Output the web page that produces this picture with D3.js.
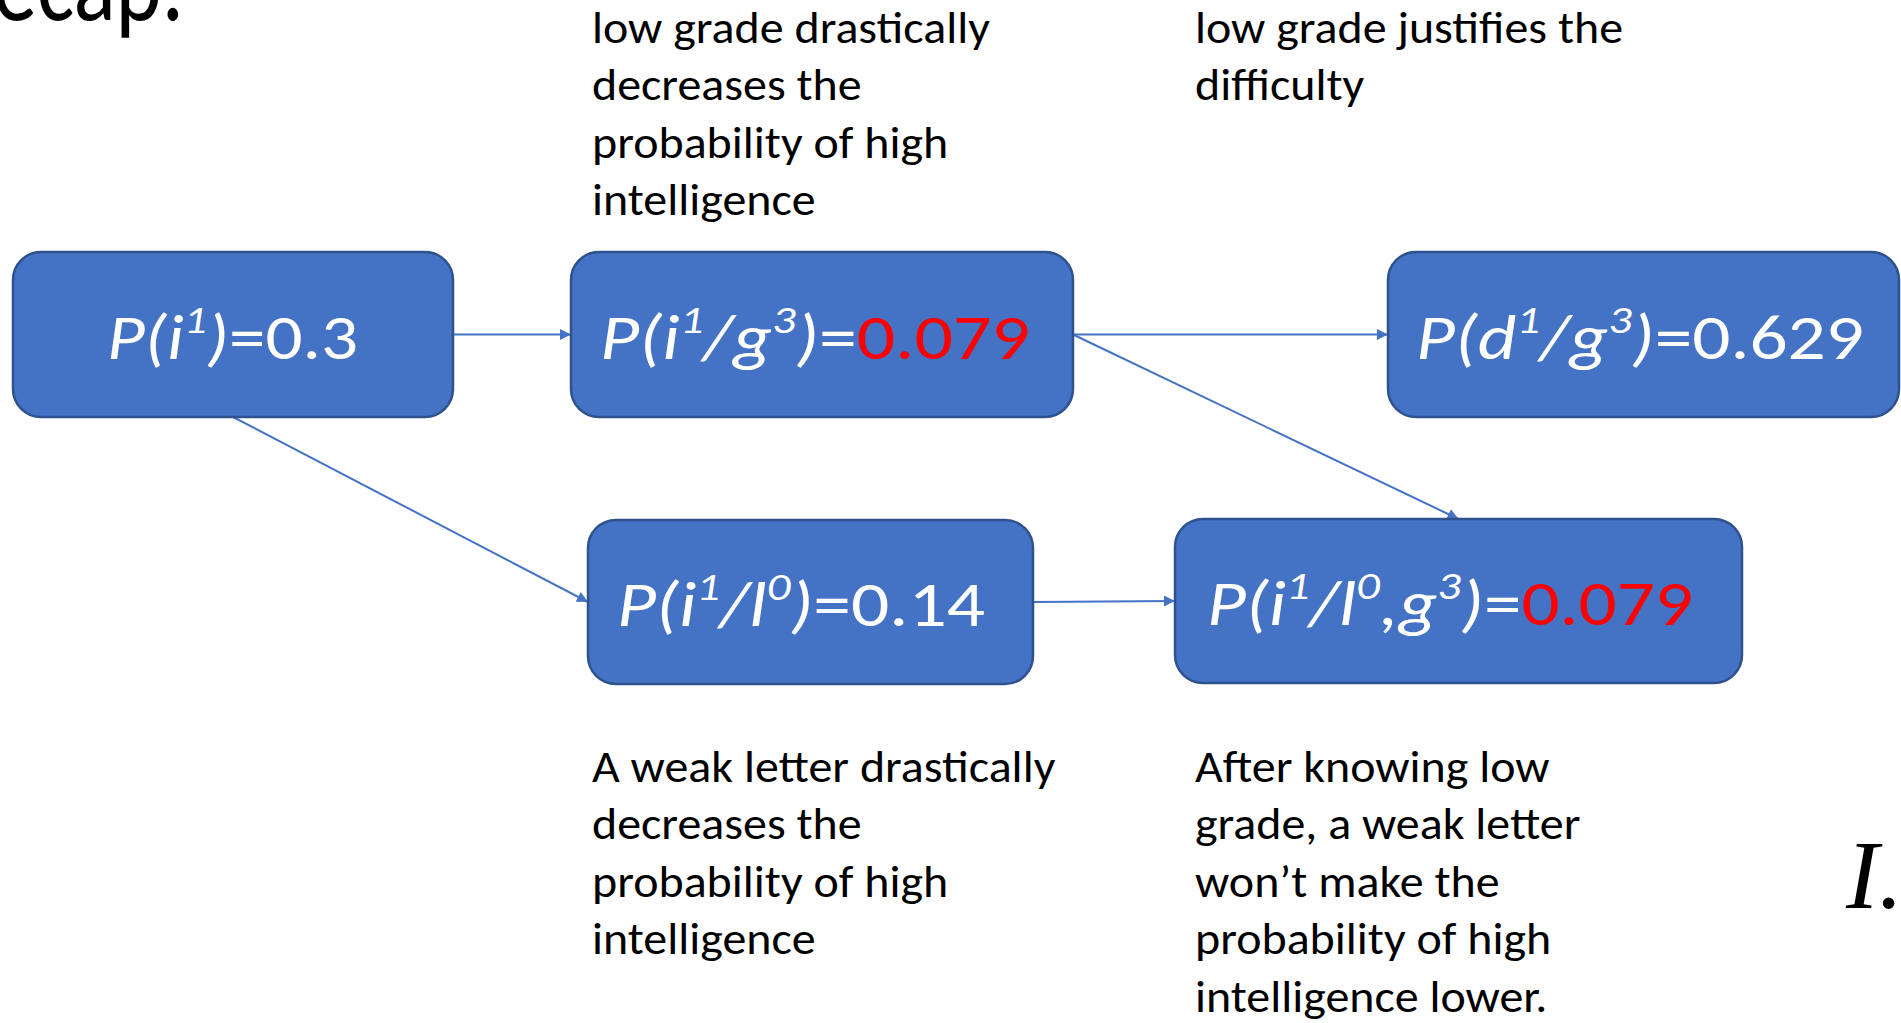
<!DOCTYPE html>
<html><head><meta charset="utf-8">
<script src="https://cdn.jsdelivr.net/npm/d3@7/dist/d3.min.js"></script>
<style>html,body{margin:0;padding:0;background:#fff;overflow:hidden}</style>
</head><body>
<svg id="c" width="1901" height="1023"></svg>
<script>
// ---- content ----
const nodeIds = ["i", "ig", "dg", "il", "ilg"];
const nodeLabels = ["P(i^1)=", "P(i^1/g^3)=", "P(d^1/g^3)=", "P(i^1/l^0)=", "P(i^1/l^0,g^3)="];
const nodeValues = ["0.3", "0.079", "0.629", "0.14", "0.079"];
const nodeHighlighted = [false, true, false, false, true];
const edgeSources = ["i", "ig", "ig", "i", "il"];
const edgeTargets = ["ig", "dg", "ilg", "il", "ilg"];
const edgeFromSide = ["r", "r", "r", "b", "r"];
const edgeToSide = ["l", "l", "t", "l", "l"];
const noteTopLeft = ["low grade drastically", "decreases the", "probability of high", "intelligence"];
const noteTopRight = ["low grade justifies the", "difficulty"];
const noteBottomLeft = ["A weak letter drastically", "decreases the", "probability of high", "intelligence"];
const noteBottomRight = ["After knowing low", "grade, a weak letter", "won’t make the", "probability of high", "intelligence lower."];
const titleText = "Recap.";
const cornerText = "I.";

// ---- layout ----
const boxLayout = {
  i:   {x: 13,   y: 252, w: 440, h: 165, tx: 107,  tw: 251},
  ig:  {x: 571,  y: 252, w: 502, h: 165, tx: 600,  tw: 430},
  dg:  {x: 1388, y: 252, w: 511, h: 165, tx: 1416, tw: 448},
  il:  {x: 588,  y: 520, w: 445, h: 164, tx: 617,  tw: 368},
  ilg: {x: 1175, y: 519, w: 567, h: 164, tx: 1207, tw: 486}
};
const noteLayout = [
  {lines: noteTopLeft, x: 592, y: 43},
  {lines: noteTopRight, x: 1195, y: 43},
  {lines: noteBottomLeft, x: 592, y: 782},
  {lines: noteBottomRight, x: 1195, y: 782}
];
const lineHeight = 57.4;
const noteFont = 45;
const labelFont = 64;
const BLUE = "#4472C4", EDGE = "#2F528F", RED = "#FF0000";
const FONT = "Calibri, Carlito, 'Open Sans', sans-serif";

const svg = d3.select("#c");
svg.append("defs").append("marker")
  .attr("id", "ah").attr("markerUnits", "userSpaceOnUse")
  .attr("viewBox", "0 0 10 10").attr("refX", 10).attr("refY", 5)
  .attr("markerWidth", 13).attr("markerHeight", 11).attr("orient", "auto")
  .append("path").attr("d", "M0,0 L10,5 L0,10 Z").attr("fill", BLUE);

const nodes = nodeIds.map((id, i) => ({id, label: nodeLabels[i], value: nodeValues[i], hi: nodeHighlighted[i], ...boxLayout[id]}));
const byId = new Map(nodes.map(n => [n.id, n]));
function anchor(n, side) {
  if (side === "r") return [n.x + n.w, n.y + n.h / 2];
  if (side === "l") return [n.x, n.y + n.h / 2];
  if (side === "t") return [n.x + n.w / 2, n.y];
  return [n.x + n.w / 2, n.y + n.h];
}
const edges = edgeSources.map((s, i) => {
  const a = anchor(byId.get(s), edgeFromSide[i]);
  const b = anchor(byId.get(edgeTargets[i]), edgeToSide[i]);
  return {a, b};
});

// edges
svg.append("g").selectAll("line").data(edges).join("line")
  .attr("x1", d => d.a[0]).attr("y1", d => d.a[1])
  .attr("x2", d => d.b[0]).attr("y2", d => d.b[1])
  .attr("stroke", BLUE).attr("stroke-width", 2).attr("marker-end", "url(#ah)");

// boxes
const ng = svg.append("g").selectAll("g").data(nodes).join("g");
ng.append("rect")
  .attr("x", d => d.x).attr("y", d => d.y).attr("width", d => d.w).attr("height", d => d.h)
  .attr("rx", 28).attr("ry", 28)
  .attr("fill", BLUE).attr("stroke", EDGE).attr("stroke-width", 2.5);

function parseLabel(s) {
  const segs = [];
  for (let i = 0; i < s.length; i++) {
    let c = s[i], sup = false;
    if (c === "^") { sup = true; c = s[++i]; }
    const italic = sup || /[A-Za-z(),\/]/.test(c);
    segs.push({c, sup, italic});
  }
  return segs;
}
ng.each(function(d) {
  const g = d3.select(this).append("g");
  const t = g.append("text").attr("x", 0).attr("y", 0)
    .attr("font-family", FONT).attr("font-size", labelFont).attr("fill", "#fff");
  let shift = 0;
  const up = labelFont * 0.40;
  parseLabel(d.label).forEach(sg => {
    const want = sg.sup ? -up : 0;
    t.append("tspan").text(sg.c)
      .attr("dy", want - shift)
      .attr("font-size", sg.sup ? labelFont * 0.62 : labelFont)
      .attr("font-style", sg.italic ? "italic" : "normal");
    shift = want;
  });
  t.append("tspan").text(d.value).attr("dy", -shift)
    .attr("fill", d.hi ? RED : "#fff");
  const bb = t.node().getBBox();
  const k = d.tw / bb.width;
  const baseline = d.y + d.h / 2 + 24;
  g.attr("transform", `translate(${d.tx - bb.x * k},${baseline}) scale(${k},1)`);
});

// notes
const ref = svg.append("text").attr("font-family", FONT).attr("font-size", noteFont).text(noteTopLeft[0]);
const condense = 398 / ref.node().getComputedTextLength();
ref.remove();
noteLayout.forEach(nl => {
  const g = svg.append("g").attr("transform", `translate(${nl.x},${nl.y}) scale(${condense},1)`);
  g.selectAll("text").data(nl.lines).join("text")
    .attr("x", 0).attr("y", (d, i) => i * lineHeight)
    .attr("font-family", FONT).attr("font-size", noteFont).attr("fill", "#000")
    .text(d => d);
});

// cut-off title (the reference shows only the lower part of it) and corner glyph
svg.append("g").attr("transform", "translate(184,20) scale(0.8,1)")
  .append("text").attr("text-anchor", "end").attr("font-family", FONT)
  .attr("font-size", 110).attr("fill", "#000").text(titleText);
svg.append("text").attr("x", 1846).attr("y", 908)
  .attr("font-family", "'Liberation Serif', 'DejaVu Serif', serif").attr("font-style", "italic")
  .attr("font-size", 98).attr("fill", "#000").text(cornerText);
</script>
</body></html>
